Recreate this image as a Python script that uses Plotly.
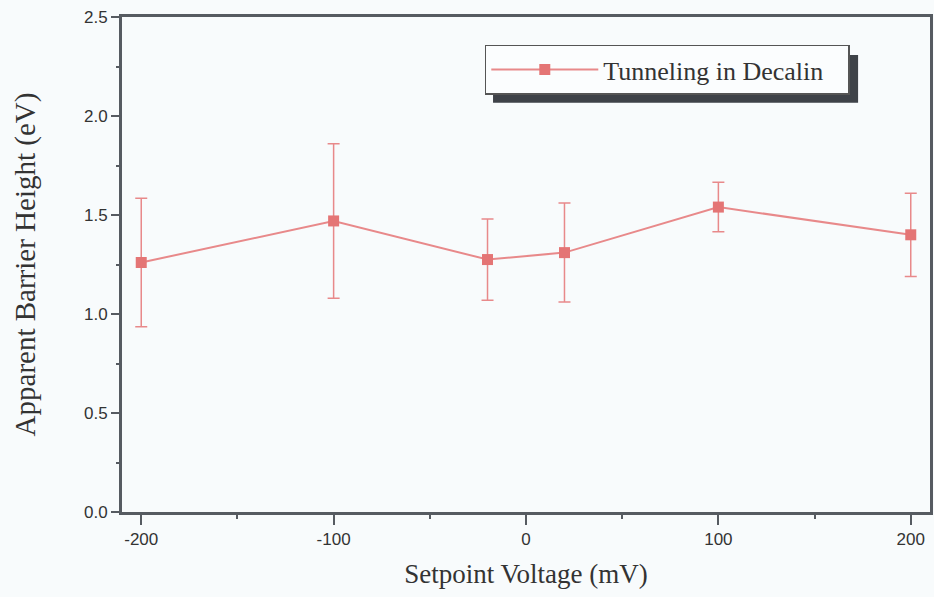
import plotly.graph_objects as go

# Data
setpoint_mv = [-200, -100, -20, 20, 100, 200]
barrier_ev = [1.26, 1.47, 1.275, 1.31, 1.54, 1.40]
barrier_err = [0.325, 0.39, 0.205, 0.25, 0.125, 0.21]

x_ticks = [-200, -100, 0, 100, 200]
x_ticktext = ["-200", "-100", "0", "100", "200"]
y_ticks = [0.0, 0.5, 1.0, 1.5, 2.0, 2.5]

line_color = "#e8898a"
marker_color = "#e47575"
axis_color = "#565b61"
bg = "#f8fbfc"
serif = "Times New Roman, Liberation Serif, serif"
sans = "Liberation Sans Narrow, Arial Narrow, Liberation Sans, Arial"

fig = go.Figure()
fig.add_trace(go.Scatter(
    x=setpoint_mv, y=barrier_ev,
    mode="lines+markers",
    name="Tunneling in Decalin",
    line=dict(color=line_color, width=2),
    marker=dict(symbol="square", size=11, color=marker_color),
    error_y=dict(type="data", array=barrier_err, visible=True,
                 color=line_color, thickness=1.5, width=6),
))

# legend drop shadow (paper coordinates)
fig.add_shape(type="rect", xref="paper", yref="paper",
              x0=0.4592, x1=0.911, y0=0.8266, y1=0.9234,
              fillcolor="#3e4248", line=dict(width=0), layer="above")

fig.update_layout(
    width=934, height=597,
    margin=dict(l=122, r=4, t=17, b=85, autoexpand=False),
    paper_bgcolor=bg, plot_bgcolor=bg,
    showlegend=True,
    legend=dict(
        x=0.449, y=0.944, xanchor="left", yanchor="top",
        orientation="h", entrywidth=240, entrywidthmode="pixels",
        bgcolor="#fbfdfe", bordercolor="#555", borderwidth=1.5,
        font=dict(family=serif, size=26, color="#333"),
        itemwidth=107,
    ),
    xaxis=dict(
        range=[-210, 210],
        tickvals=x_ticks, ticktext=x_ticktext,
        ticks="outside", ticklen=10, tickwidth=1.5, tickcolor=axis_color,
        minor=dict(dtick=50, ticks="outside", ticklen=4, tickwidth=1.5, tickcolor=axis_color),
        showline=True, linewidth=3, linecolor=axis_color, mirror=True,
        showgrid=False, zeroline=False,
        tickfont=dict(family=sans, size=17, color="#333"),
        title=dict(text="Setpoint Voltage (mV)", standoff=16,
                   font=dict(family=serif, size=27, color="#333")),
    ),
    yaxis=dict(
        range=[0, 2.5],
        tickvals=y_ticks, tickformat=".1f",
        ticks="outside", ticklen=8, tickwidth=1.5, tickcolor=axis_color,
        minor=dict(dtick=0.25, ticks="outside", ticklen=3, tickwidth=1.5, tickcolor=axis_color),
        showline=True, linewidth=3, linecolor=axis_color, mirror=True,
        showgrid=False, zeroline=False,
        tickfont=dict(family=sans, size=17, color="#333"),
        title=dict(text="Apparent Barrier Height (eV)", standoff=40,
                   font=dict(family=serif, size=29, color="#333")),
    ),
)

fig.write_html("out.html")
